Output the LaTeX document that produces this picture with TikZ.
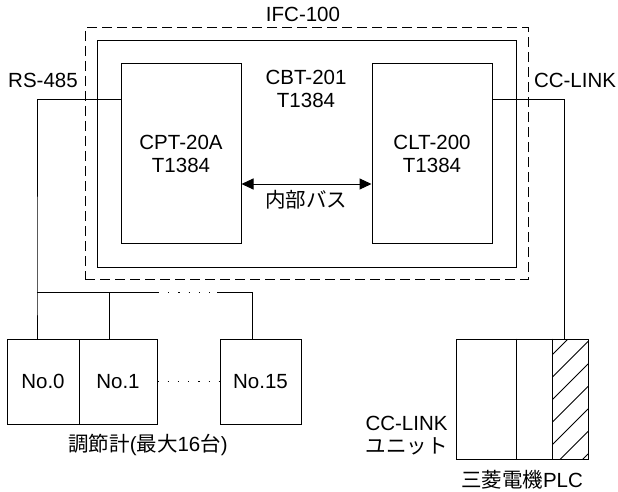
\documentclass[tikz,border=0pt]{standalone}
\usepackage{fontspec}
\setmainfont{Liberation Sans}
\newfontfamily\jp{Noto Sans CJK JP}
\usetikzlibrary{arrows.meta}
\begin{document}
\begin{tikzpicture}[x=1pt,y=-1pt,
  line width=1pt,
  every node/.style={font=\fontsize{20.5pt}{23pt}\selectfont, inner sep=0pt},
  box/.style={draw, line width=1pt, align=center},
  dashbox/.style={draw, line width=1pt, dash pattern=on 10pt off 5pt},
  lbl/.style={align=center},
  dotline/.style={dash pattern=on 1.2pt off 9pt},
  tip/.style={Triangle[length=12pt,width=11pt]}]
\useasboundingbox (0,0) rectangle (618,492);

% enclosures
\node[dashbox, minimum width=443pt, minimum height=251pt] (ifc) at (306.5,153.5) {};
\node[box, minimum width=419pt, minimum height=226pt] (cbt) at (306.5,154) {};
\node[box, minimum width=120pt, minimum height=179pt] (cpt) at (181,153.5) {CPT-20A\\T1384};
\node[box, minimum width=120pt, minimum height=179pt] (clt) at (432,153.5) {CLT-200\\T1384};

% labels
\node[anchor=base] (ifcl) at (303,22) {IFC-100};
\node[lbl] (cbtl) at (306,89) {CBT-201\\T1384};
\node[anchor=base] (rsl) at (43,88) {RS-485};
\node[anchor=base] (ccl) at (575,88) {CC-LINK};

% internal bus
\coordinate (ybus) at (306,184);
\draw[{Triangle[length=12pt,width=11pt]}-{Triangle[length=12pt,width=11pt]}] (cpt.east |- ybus) -- (clt.west |- ybus);
\node (nb) at (306,199.5) {\jp 内部バス};

% controllers
\node[box, minimum width=72pt, minimum height=85pt] (n0) at (43,381.5) {No.0};
\node[box, minimum width=78pt, minimum height=85pt] (n1) at (118,381.5) {No.1};
\node[box, minimum width=81pt, minimum height=85pt] (n15) at (260.5,381.5) {No.15};
\node (ctl) at (148,445) {{\jp 調節計}({\jp 最大}16{\jp 台})};

% RS-485 wiring
\coordinate (yrs) at (0,100);
\coordinate (jb) at (37,292);
\coordinate (j1) at (109,292);
\coordinate (d1) at (158,292);
\coordinate (d2) at (217,292);
\coordinate (j15) at (252,292);
\draw (cpt.west |- yrs) -| (jb) -- (jb |- n0.north);
\draw (jb) -- (d1);
\draw[dotline] (d1) -- (d2);
\draw (d2) -- (j15) -- (j15 |- n15.north);
\draw (j1) -- (j1 |- n1.north);
\draw[dotline] (n1.east) -- (n15.west);

% PLC
\node[box, minimum width=132pt, minimum height=120pt] (plc) at (522,399) {};
\coordinate (dv1) at (516,0);
\coordinate (dv2) at (552,0);
\draw (dv1 |- plc.north) -- (dv1 |- plc.south);
\draw (dv2 |- plc.north) -- (dv2 |- plc.south);
\begin{scope}
  \clip (552,339) rectangle (588,459);
  \foreach \i in {0,...,6} {
    \pgfmathsetmacro{\c}{907+22.5*\i}
    \draw[line width=0.9pt] (552,\c-552) -- (588,\c-588);
  }
\end{scope}
\node[box, minimum width=132pt, minimum height=120pt] (plcb) at (522,399) {};

% CC-LINK wiring
\coordinate (xcc) at (564,0);
\draw (clt.east |- yrs) -| (xcc |- plc.north);

\node[align=left, anchor=west] (ccu) at (365,436) {CC-LINK\\{\jp ユニット}};
\node (pl) at (522,480) {{\jp 三菱電機}PLC};
\end{tikzpicture}
\end{document}
